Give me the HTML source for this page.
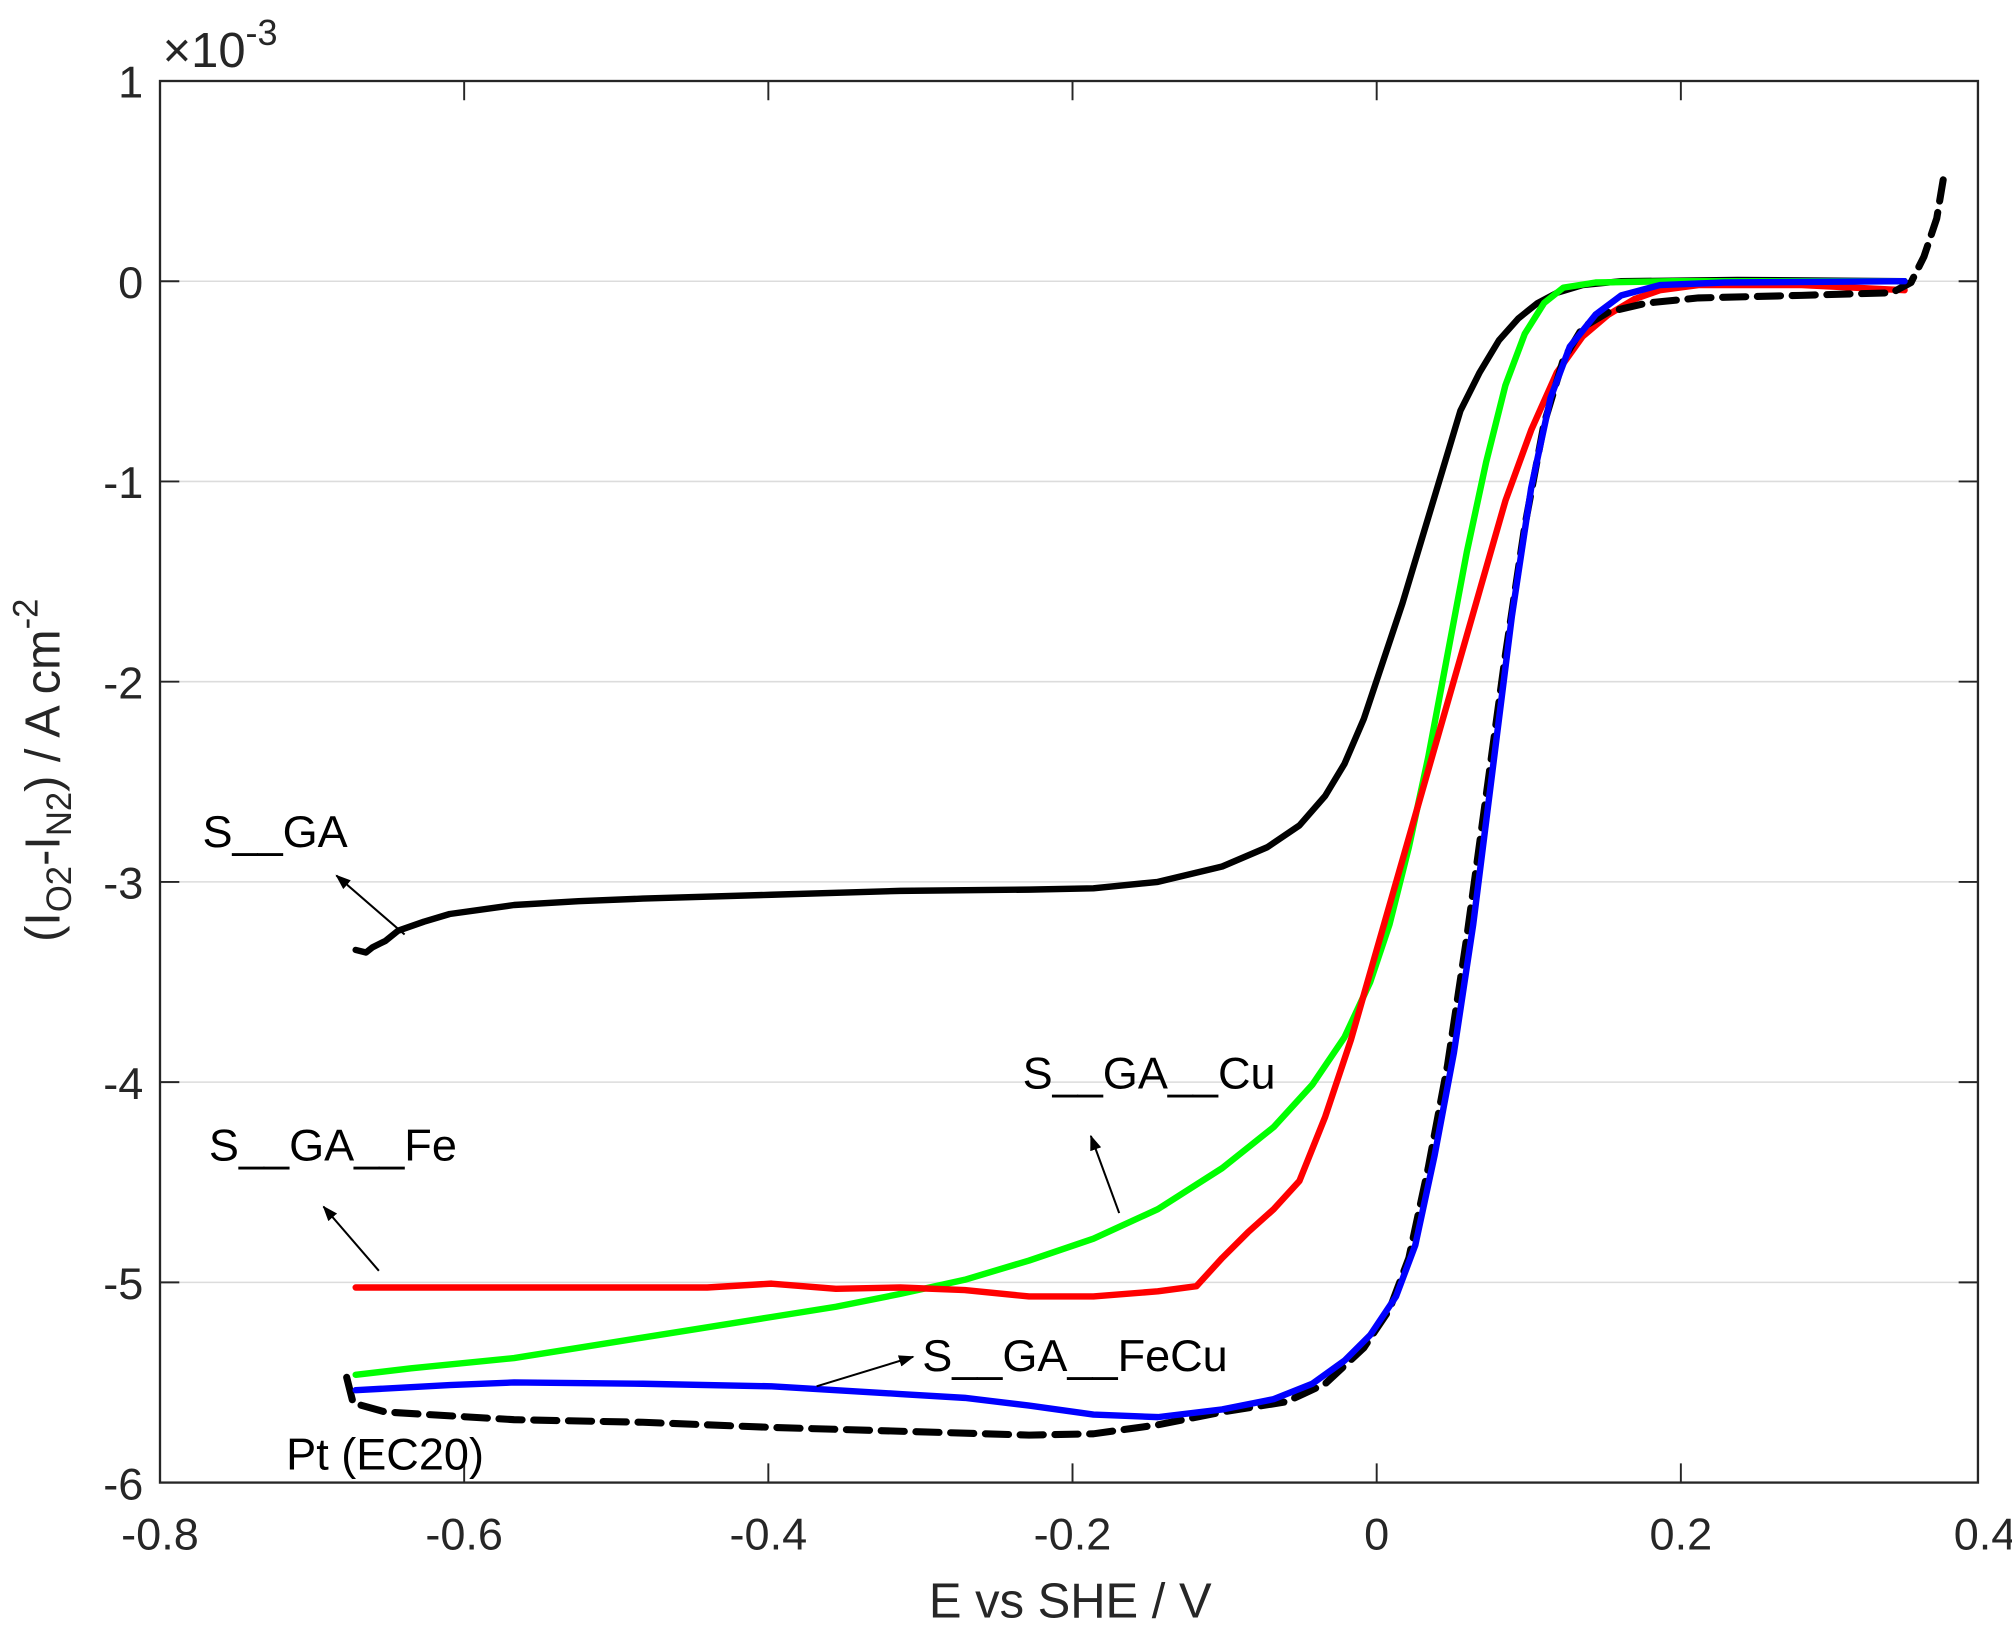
<!DOCTYPE html>
<html><head><meta charset="utf-8"><style>
html,body{margin:0;padding:0;background:#fff;}
svg{display:block;}
text{font-family:"Liberation Sans",Arial,sans-serif;fill:#262626;}
</style></head><body>
<svg width="2012" height="1637" viewBox="0 0 2012 1637" xmlns="http://www.w3.org/2000/svg">
<g transform="matrix(1.2875 0 0 1.2835 -0.94 0.14)">
<g stroke="#dcdcdc" stroke-width="1.2">
<line x1="125" x2="1537" y1="219" y2="219"/>
<line x1="125" x2="1537" y1="375" y2="375"/>
<line x1="125" x2="1537" y1="531" y2="531"/>
<line x1="125" x2="1537" y1="687" y2="687"/>
<line x1="125" x2="1537" y1="843" y2="843"/>
<line x1="125" x2="1537" y1="999" y2="999"/>
</g>
<g stroke="#262626" stroke-width="1.5">
<path d="M125 219h15M125 375h15M125 531h15M125 687h15M125 843h15M125 999h15"/>
<path d="M1537 219h-15M1537 375h-15M1537 531h-15M1537 687h-15M1537 843h-15M1537 999h-15"/>
<path d="M361.25 1155v-15M597.5 1155v-15M833.75 1155v-15M1070 1155v-15M1306.25 1155v-15"/>
<path d="M361.25 63v15M597.5 63v15M833.75 63v15M1070 63v15M1306.25 63v15"/>
</g>
<g fill="none" stroke-width="5" stroke-linejoin="round" stroke-linecap="round">
<polyline stroke="#000" points="277,740 285,742 290,738 300,733 310,725 330,718 350,712 400,705 450,702 500,700 600,697 700,694 800,693 850,692 900,687 950,675 985,660 1010,643 1030,620 1045,595 1060,560 1075,515 1090,470 1105,420 1120,370 1135,320 1150,290 1165,265 1180,248 1195,236 1210,228 1230,222 1260,219 1350,218 1480,219"/>
<polyline stroke="#00ff00" points="277,1071 320,1066 400,1058 450,1050 500,1042 550,1034 600,1026 650,1018 700,1008 750,997 800,982 850,965 900,942 950,910 990,878 1020,845 1045,808 1065,765 1080,720 1095,660 1110,590 1125,510 1140,430 1155,360 1170,300 1185,260 1200,236 1215,224 1240,220 1300,219 1480,219"/>
<polyline stroke="#ff0000" points="277,1003 350,1003 450,1003 550,1003 600,1000 650,1004 700,1003 750,1005 800,1010 850,1010 900,1006 930,1002 950,980 970,960 990,942 1010,920 1030,870 1050,810 1070,740 1090,670 1110,600 1130,530 1150,460 1170,390 1190,335 1210,290 1230,262 1250,245 1270,233 1290,226 1320,222 1400,222 1480,226"/>
<polyline stroke="#000" stroke-dasharray="18,9" stroke-width="5.5" points="270,1073 275,1093 300,1100 400,1106 500,1108 600,1112 700,1115 800,1118 850,1117 900,1110 950,1100 1000,1092 1030,1078 1060,1050 1080,1020 1095,980 1110,910 1125,830 1140,730 1155,620 1170,510 1185,410 1200,330 1215,280 1230,255 1250,243 1280,236 1320,232 1400,230 1470,228 1485,220 1495,200 1505,170 1510,140"/>
<polyline stroke="#0000ff" points="277,1083 350,1079 400,1077 500,1078 600,1080 650,1083 700,1086 750,1089 800,1095 850,1102 900,1104 950,1098 990,1090 1020,1078 1045,1060 1065,1040 1085,1010 1100,970 1115,900 1130,820 1145,720 1160,600 1175,480 1190,380 1205,310 1220,270 1240,245 1260,230 1290,222 1340,220 1480,219"/>
</g>
<rect x="125" y="63" width="1412" height="1092" fill="none" stroke="#262626" stroke-width="1.8"/>
<defs><marker id="ah" markerWidth="12" markerHeight="9" refX="11" refY="4.5" orient="auto" markerUnits="userSpaceOnUse"><path d="M0,0 L12,4.5 L0,9 z" fill="#000"/></marker></defs>
<g stroke="#000" stroke-width="1.6" marker-end="url(#ah)">
<line x1="315" y1="728" x2="262" y2="682"/>
<line x1="870" y1="945" x2="848" y2="885"/>
<line x1="295" y1="990" x2="252" y2="940"/>
<line x1="635" y1="1080" x2="710" y2="1057"/>
</g>
<g font-size="35">
<text x="158" y="660" style="fill:#000">S__GA</text>
<text x="795" y="848" style="fill:#000">S__GA__Cu</text>
<text x="163" y="904" style="fill:#000">S__GA__Fe</text>
<text x="717" y="1068" style="fill:#000">S__GA__FeCu</text>
<text x="223" y="1145" style="fill:#000">Pt (EC20)</text>
</g>
<g font-size="35" text-anchor="end">
<text x="112" y="76">1</text>
<text x="112" y="232">0</text>
<text x="112" y="388">-1</text>
<text x="112" y="544">-2</text>
<text x="112" y="700">-3</text>
<text x="112" y="856">-4</text>
<text x="112" y="1012">-5</text>
<text x="112" y="1168">-6</text>
</g>
<g font-size="35" text-anchor="middle">
<text x="125" y="1207">-0.8</text>
<text x="361.25" y="1207">-0.6</text>
<text x="597.5" y="1207">-0.4</text>
<text x="833.75" y="1207">-0.2</text>
<text x="1070" y="1207">0</text>
<text x="1306.25" y="1207">0.2</text>
<text x="1542.5" y="1207">0.4</text>
</g>
<text x="127" y="52" font-size="38">×10<tspan font-size="28" dy="-17">-3</tspan></text>
<text x="832" y="1260" font-size="38" text-anchor="middle">E vs SHE / V</text>
<text transform="translate(47,600) rotate(-90)" font-size="38" text-anchor="middle">(I<tspan font-size="27" dy="9">O2</tspan><tspan dy="-9">-I</tspan><tspan font-size="27" dy="9">N2</tspan><tspan dy="-9">) / A cm</tspan><tspan font-size="27" dy="-17">-2</tspan></text>
</g>
</svg>
</body></html>
